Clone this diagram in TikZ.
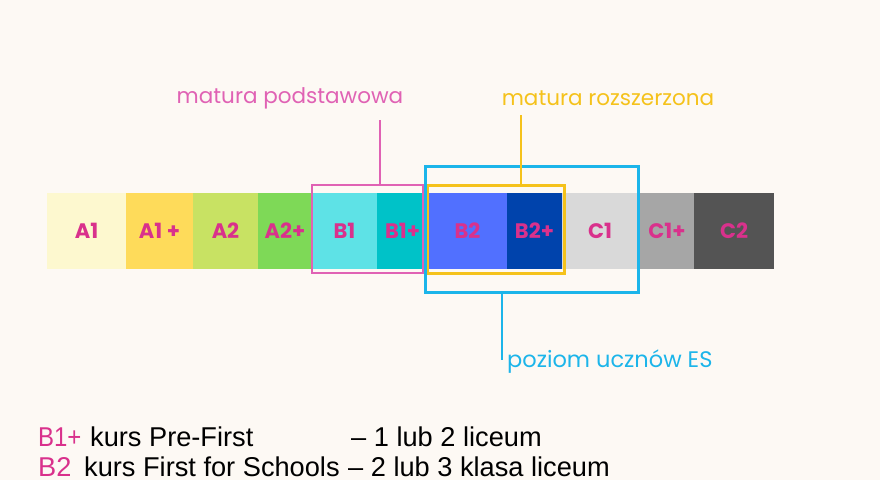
\documentclass[tikz,border=0pt]{standalone}
\usepackage{fontspec}
\setmainfont{Poppins}
\newfontfamily\bodyfont{Liberation Sans}
\definecolor{bg}{HTML}{FDF9F4}
\definecolor{cAa}{HTML}{FDF8CF}
\definecolor{cAb}{HTML}{FEDB5A}
\definecolor{cAc}{HTML}{C8E263}
\definecolor{cAd}{HTML}{7ED957}
\definecolor{cBa}{HTML}{5EE2E6}
\definecolor{cBb}{HTML}{00C2C8}
\definecolor{cBc}{HTML}{5170FF}
\definecolor{cBd}{HTML}{0043AC}
\definecolor{cCa}{HTML}{D9D9D9}
\definecolor{cCb}{HTML}{A6A6A6}
\definecolor{cCc}{HTML}{545454}
\definecolor{lblpink}{HTML}{D9318C}
\definecolor{pinkc}{HTML}{E062B4}
\definecolor{yelc}{HTML}{F5C21B}
\definecolor{bluc}{HTML}{1CB5EA}
\begin{document}
\begin{tikzpicture}[x=1pt,y=-1pt,
  seg/.style={minimum height=76pt, inner sep=0pt, outer sep=0pt,
    font=\fontsize{21}{23}\selectfont\bfseries, text=lblpink},
  frame/.style={inner sep=0pt, outer sep=0pt, line width=2.8pt},
  toplabel/.style={inner sep=0pt, font=\fontsize{21.5}{23}\selectfont},
  conn/.style={line width=2.2pt},
  body/.style={inner sep=0pt, anchor=base west, font=\bodyfont\fontsize{27.2}{30}\selectfont}]
\useasboundingbox[fill=bg] (0,0) rectangle (880,480);
% bar
\node[seg, fill=cAa, minimum width=79pt] (a1) at (86.5,231) {A1};
\node[seg, fill=cAb, minimum width=67pt] (a1p) at (159.5,231) {A1 +};
\node[seg, fill=cAc, minimum width=65pt] (a2) at (225.5,231) {A2};
\node[seg, fill=cAd, minimum width=54pt] (a2p) at (285,231) {A2+};
\node[seg, fill=cBa, minimum width=65pt] (b1) at (344.5,231) {B1};
\node[seg, fill=cBb, minimum width=51pt] (b1p) at (402.5,231) {B1+};
\node[seg, fill=cBc, minimum width=79pt] (b2) at (467.5,231) {B2};
\node[seg, fill=cBd, minimum width=55pt] (b2p) at (534.5,231) {B2+};
\node[seg, fill=cCa, minimum width=76pt] (c1) at (600,231) {C1};
\node[seg, fill=cCb, minimum width=54pt] (c1p) at (667,231) {C1+};
\node[seg, fill=cCc, minimum width=80pt] (c2) at (734,231) {C2};
% frames
\node[frame, draw=pinkc, minimum width=111pt, minimum height=88pt] (pbox) at (367.5,229) {};
\node[frame, draw=yelc, line width=3pt, minimum width=137pt, minimum height=88pt] (ybox) at (495.5,229) {};
\node[frame, draw=bluc, line width=3pt, minimum width=213pt, minimum height=126pt] (bbox) at (531.5,229) {};
% labels
\node[toplabel, text=pinkc] (ptxt) at (290,98) {matura podstawowa};
\node[toplabel, text=yelc] (ytxt) at (608,98) {matura rozszerzona};
\node[toplabel, text=bluc, anchor=west, font=\fontsize{22.5}{24}\selectfont] (btxt) at (507,362) {poziom ucznów ES};
\coordinate (ptop) at (380,120);
\coordinate (ytop) at (521,115);
\coordinate (bbot) at (502,360);
\draw[conn, draw=pinkc] (ptop) -- (ptop |- pbox.north);
\draw[conn, draw=yelc] (ytop) -- (ytop |- ybox.north);
\draw[conn, draw=bluc] (bbot |- bbox.south) -- (bbot);
% bottom text
\node[body, text=lblpink] (l1a) at (38,446) {\scalebox{0.88}[1]{B1+}};
\node[body] (l1b) at (90,446) {kurs Pre-First};
\node[body] (l1c) at (351,446) {– 1 lub 2 liceum};
\node[body, text=lblpink] (l2a) at (38,476) {B2};
\node[body] (l2b) at (84,476) {kurs First for Schools};
\node[body] (l2c) at (348,476) {– 2 lub 3 klasa liceum};
\end{tikzpicture}
\end{document}
